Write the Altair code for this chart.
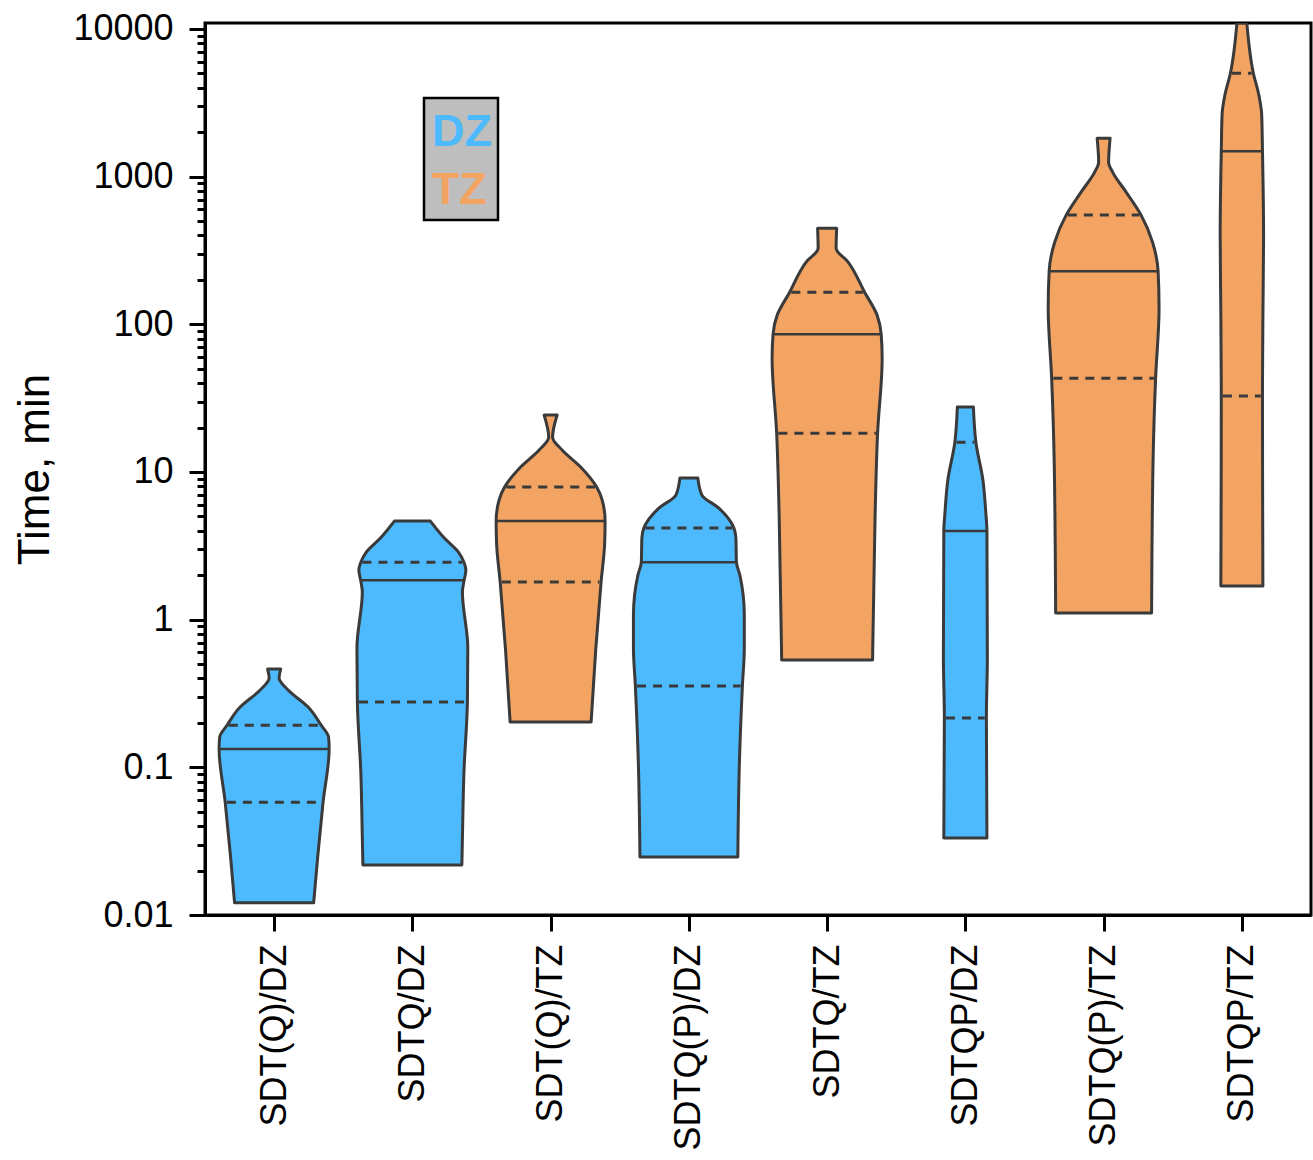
import altair as alt
import numpy as np
import pandas as pd

categories = ["SDT(Q)/DZ", "SDTQ/DZ", "SDT(Q)/TZ", "SDTQ(P)/DZ",
              "SDTQ/TZ", "SDTQP/DZ", "SDTQ(P)/TZ", "SDTQP/TZ"]
groups = ["DZ", "DZ", "TZ", "DZ", "TZ", "DZ", "TZ", "TZ"]

# Violin outlines: time values (min, top -> bottom) and density half-widths
# (fraction of the category spacing).
v1_t = [0.463, 0.403, 0.334, 0.256, 0.193, 0.160, 0.133, 0.0582, 0.0247, 0.0121]
v1_w = [0.047, 0.036, 0.101, 0.246, 0.340, 0.394, 0.398, 0.354, 0.315, 0.286]

v2_t = [4.65, 3.57, 2.87, 2.45, 2.17, 1.825, 1.54, 0.642, 0.277, 0.0929, 0.0332, 0.0218]
v2_w = [0.130, 0.231, 0.333, 0.373, 0.387, 0.373, 0.362, 0.401, 0.398, 0.373, 0.362, 0.358]

v3_t = [24.3, 17.2, 14.1, 10.8, 7.90, 6.45, 4.65, 3.30, 1.80, 0.622, 0.203]
v3_w = [0.047, 0.014, 0.083, 0.217, 0.333, 0.373, 0.394, 0.391, 0.365, 0.326, 0.293]

v4_t = [9.09, 6.98, 5.69, 4.17, 3.57, 2.45, 2.00, 1.07, 0.642, 0.355, 0.1036, 0.0247]
v4_w = [0.065, 0.094, 0.217, 0.326, 0.340, 0.344, 0.369, 0.401, 0.401, 0.387, 0.365, 0.354]

v5_t = [448, 328, 264, 165, 115, 85.8, 59.0, 18.3, 5.11, 0.533]
v5_w = [0.069, 0.065, 0.152, 0.271, 0.362, 0.391, 0.398, 0.365, 0.347, 0.329]

v6_t = [27.5, 15.9, 8.81, 5.27, 3.98, 0.558, 0.216, 0.0332]
v6_w = [0.058, 0.076, 0.127, 0.148, 0.156, 0.159, 0.152, 0.156]

v7_t = [1823, 1254, 1073, 786, 549, 360, 229, 129, 43.2, 12.4, 1.11]
v7_w = [0.047, 0.036, 0.065, 0.163, 0.271, 0.354, 0.394, 0.401, 0.376, 0.358, 0.347]

v8_t = [10950, 5020, 3600, 2650, 1488, 402, 110, 32.7, 1.69]
v8_w = [0.036, 0.083, 0.122, 0.143, 0.149, 0.157, 0.152, 0.149, 0.152]

medians = [0.133, 1.85, 4.65, 2.45, 85.8, 3.98, 229, 1488]
upper_q = [0.193, 2.45, 7.90, 4.17, 165, 15.9, 549, 5020]
lower_q = [0.058, 0.277, 1.80, 0.355, 18.3, 0.216, 43.2, 32.7]

outline_t = [v1_t, v2_t, v3_t, v4_t, v5_t, v6_t, v7_t, v8_t]
outline_w = [v1_w, v2_w, v3_w, v4_w, v5_w, v6_w, v7_w, v8_w]

BLUE = "#4EBAFE"
ORANGE = "#F3A463"
EDGE = "#3a3a3a"

# ---- tables
rows = []
for i, (ts, ws) in enumerate(zip(outline_t, outline_w)):
    for t, w in zip(ts, ws):
        rows.append({"cat": categories[i], "group": groups[i], "t": t,
                     "xl": i + 0.5 - w, "xr": i + 0.5 + w})
area_df = pd.DataFrame(rows).sort_values(["cat", "t"])


def half_width(i, v):
    lt = np.log10(outline_t[i][::-1])
    return float(np.interp(np.log10(v), lt, outline_w[i][::-1]))


line_rows = []
for i in range(len(categories)):
    for kind, v in (("median", medians[i]), ("upper", upper_q[i]), ("lower", lower_q[i])):
        w = half_width(i, v)
        inset = 0.0 if kind == "median" else 0.012
        line_rows.append({"cat": categories[i], "kind": kind, "t": v,
                          "xl": i + 0.5 - w + inset, "xr": i + 0.5 + w - inset})
line_df = pd.DataFrame(line_rows)

# ---- scales & axes
x_scale = alt.Scale(domain=[0, 8], nice=False, zero=False)
y_scale = alt.Scale(type="log", domain=[0.01, 10980], nice=False)

label_array = "[" + ",".join("'" + c + "'" for c in categories) + "]"
x_axis = alt.Axis(values=[i + 0.5 for i in range(8)],
                  labelExpr=label_array + "[floor(datum.value)]",
                  labelAngle=-90, labelFlush=False, labelOverlap=False,
                  labelBound=False, labelLimit=0, tickSize=16, labelPadding=13,
                  title=None, domainWidth=3)

major = [0.01, 0.1, 1, 10, 100, 1000, 10000]
minor = [k * d for d in [0.01, 0.1, 1, 10, 100, 1000] for k in range(2, 10)]

y_axis_major = alt.Axis(orient="left", values=major, format="~g", tickSize=16,
                        labelPadding=16, title="Time, min", titlePadding=15,
                        domainWidth=3, labelOverlap=False, labelFlush=False)
y_axis_minor = alt.Axis(orient="left", values=minor, labels=False, tickSize=8,
                        domain=False, title=None)

violins = alt.Chart(area_df).mark_area(
    orient="horizontal", interpolate="monotone", stroke=EDGE, strokeWidth=3,
    strokeJoin="round", opacity=1, fillOpacity=1, clip=True
).encode(
    y=alt.Y("t:Q", scale=y_scale, axis=y_axis_major),
    x=alt.X("xl:Q", scale=x_scale, axis=x_axis, stack=None),
    x2="xr:Q",
    color=alt.Color("group:N", scale=alt.Scale(domain=["DZ", "TZ"], range=[BLUE, ORANGE]),
                    legend=None),
    detail="cat:N",
)

med_lines = alt.Chart(line_df).transform_filter(alt.datum.kind == "median").mark_rule(
    color=EDGE, strokeWidth=2.5
).encode(
    y=alt.Y("t:Q", scale=y_scale, axis=None),
    x=alt.X("xl:Q", scale=x_scale, axis=x_axis),
    x2="xr:Q",
)

quart_lines = alt.Chart(line_df).transform_filter(alt.datum.kind != "median").mark_rule(
    color=EDGE, strokeWidth=3, strokeDash=[9, 7]
).encode(
    y=alt.Y("t:Q", scale=y_scale, axis=None),
    x=alt.X("xl:Q", scale=x_scale, axis=x_axis),
    x2="xr:Q",
)

minor_ticks = alt.Chart(line_df).mark_point(opacity=0).encode(
    y=alt.Y("t:Q", scale=y_scale, axis=y_axis_minor),
    x=alt.X("xl:Q", scale=x_scale, axis=x_axis),
)

# ---- legend box
legend_df = pd.DataFrame({"label": ["DZ", "TZ"], "color": [BLUE, ORANGE]})
legend_box = alt.Chart(legend_df).transform_filter(alt.datum.label == "DZ").mark_rect(
    fill="#BEBEBE", stroke="black", strokeWidth=2.5
).encode(x=alt.value(219), x2=alt.value(293), y=alt.value(75), y2=alt.value(197))

legend_dz = alt.Chart(legend_df).transform_filter(alt.datum.label == "DZ").mark_text(
    font="Liberation Sans", fontSize=45, fontWeight="bold", align="center",
    baseline="alphabetic", color=BLUE
).encode(x=alt.value(257), y=alt.value(123), text="label:N")

legend_tz = alt.Chart(legend_df).transform_filter(alt.datum.label == "TZ").mark_text(
    font="Liberation Sans", fontSize=45, fontWeight="bold", align="center",
    baseline="alphabetic", color=ORANGE
).encode(x=alt.value(254), y=alt.value(181), text="label:N")

chart = alt.layer(
    violins, med_lines, quart_lines, minor_ticks, legend_box, legend_dz, legend_tz
).resolve_scale(y="shared", x="shared").resolve_axis(y="independent").properties(
    width=1106, height=892,
    padding={"left": 205, "top": 23, "right": 2, "bottom": 245},
    autosize=alt.AutoSizeParams(type="none"),
    background="white",
).configure_view(
    stroke="black", strokeWidth=3
).configure_axis(
    grid=False, domainColor="black", tickColor="black", tickWidth=3,
    labelFont="Liberation Sans", labelFontSize=36, labelColor="black",
    titleFont="Liberation Sans", titleFontSize=44, titleFontWeight="normal",
    titleColor="black",
)

chart.save("out.html", embed_options={"renderer": "svg", "actions": False})
